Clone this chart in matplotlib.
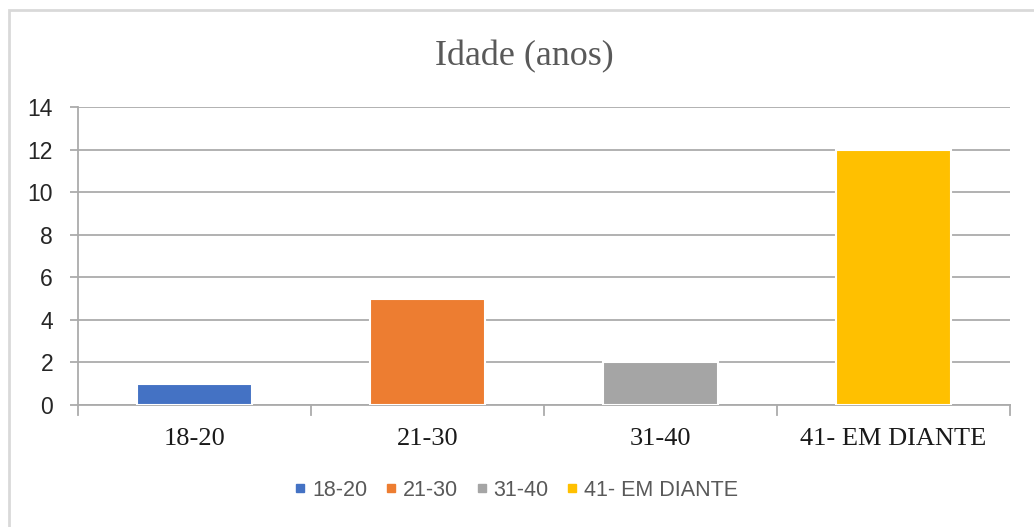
import matplotlib.pyplot as plt
from matplotlib.patches import Rectangle
from matplotlib.lines import Line2D

# dados
categorias = ['18-20', '21-30', '31-40', '41- EM DIANTE']
valores = [1, 5, 2, 12]
cores = ['#4472C4', '#ED7D31', '#A5A5A5', '#FFC000']
yticks = [0, 2, 4, 6, 8, 10, 12, 14]

fig = plt.figure(figsize=(10.34, 5.27), dpi=100)
W, H = 1034, 527

# borda do gráfico (lado direito e inferior ficam fora da imagem)
fig.patches.append(Rectangle((9 / W, -20 / H), 1060 / W, 1 + 10 / H, transform=fig.transFigure,
                             fill=False, edgecolor='#D9D9D9', linewidth=2))

ax = fig.add_axes([78 / W, 1 - 405 / H, (1010 - 78) / W, (405 - 107) / H])

x = range(len(categorias))
ax.bar(x, valores, width=0.49, color=cores, edgecolor='white', linewidth=1.5, zorder=3)

ax.set_xlim(-0.5, len(categorias) - 0.5)
ax.set_ylim(0, 14)
ax.set_yticks(yticks)
ax.set_yticklabels([str(v) for v in yticks], family='Liberation Sans', fontsize=16.5, color='#262626')
ax.yaxis.grid(True, color='#ABABAB', linewidth=1.3, zorder=0)
ax.tick_params(axis='y', length=6, color='#ABABAB', width=1.3, pad=12)

# rótulos x e marcas entre categorias
ax.set_xticks(list(x))
ax.set_xticklabels(categorias, family='Liberation Serif', fontsize=19, color='#1a1a1a')
ax.tick_params(axis='x', length=0, pad=16.5)
for b in [i - 0.5 for i in range(len(categorias) + 1)]:
    ax.plot([b, b], [0, -0.45], color='#ABABAB', linewidth=1.3, clip_on=False, zorder=4)

for s in ['top', 'right']:
    ax.spines[s].set_visible(False)
ax.spines['left'].set_color('#ABABAB')
ax.spines['left'].set_linewidth(1.3)
ax.spines['bottom'].set_color('#ABABAB')
ax.spines['bottom'].set_linewidth(1.3)

fig.text(524 / W, 1 - 65 / H, 'Idade (anos)', ha='center', va='baseline',
         family='Liberation Serif', fontsize=26, color='#595959')

handles = [Line2D([], [], marker='s', linestyle='none', markersize=6, color=c) for c in cores]
fig.legend(handles, categorias, loc='center', bbox_to_anchor=(516 / W, 1 - 490 / H), ncol=4,
           frameon=False, prop={'family': 'Liberation Sans', 'size': 15.5}, labelcolor='#595959',
           handletextpad=0.25, columnspacing=0.8, handlelength=0.6)

fig.savefig('out.png', dpi=100)
